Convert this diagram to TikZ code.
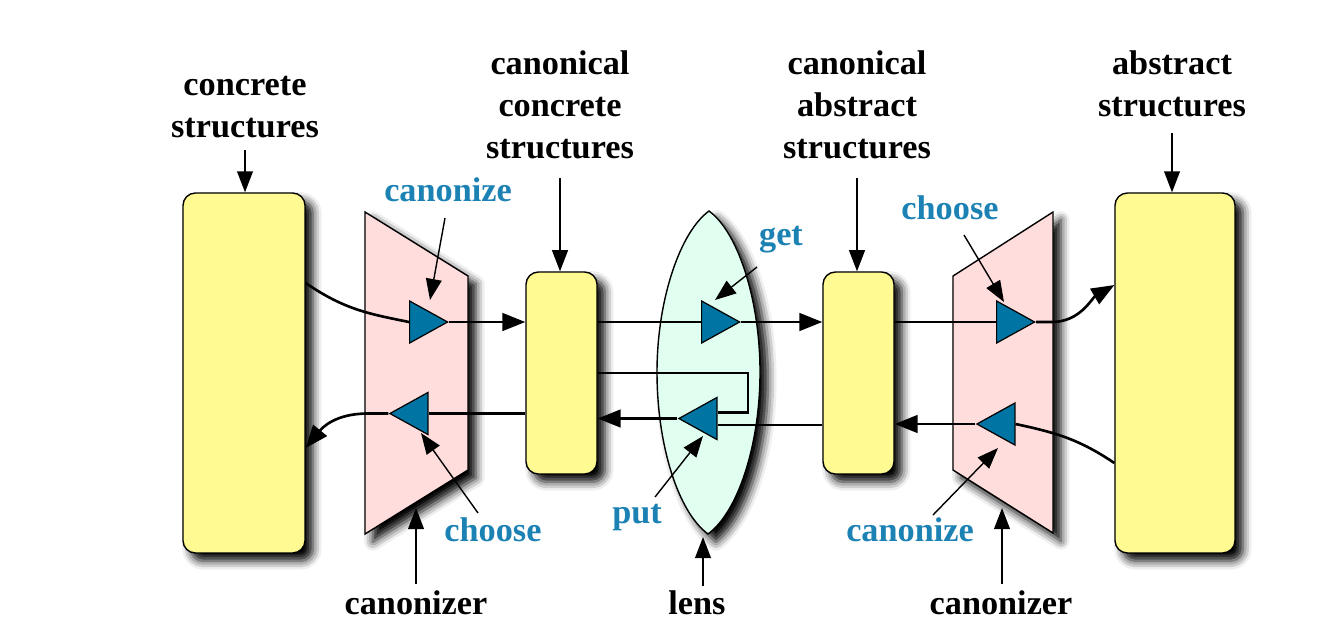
\documentclass[tikz,border=0pt]{standalone}
\usepackage{fontspec}
\setmainfont{Liberation Serif}
\usetikzlibrary{shapes.geometric,arrows.meta,shadows.blur,calc}
\definecolor{boxyellow}{RGB}{255,250,145}
\definecolor{trapink}{RGB}{255,221,221}
\definecolor{lensmint}{RGB}{225,255,240}
\definecolor{triteal}{RGB}{0,116,162}
\definecolor{lblblue}{RGB}{28,130,180}
\tikzset{
  shd/.style={blur shadow={shadow xshift=4.5pt,shadow yshift=-4.5pt,shadow blur radius=5pt,shadow opacity=100}},
  ybox/.style={draw=black,line width=0.8pt,fill=boxyellow,rounded corners=7pt,inner sep=0pt,shd},
  trap/.style={draw=black,line width=0.8pt,fill=trapink,shd},
  lensshape/.style={draw=black,line width=0.8pt,fill=lensmint,shd},
  tri/.style={isosceles triangle,isosceles triangle stretches,draw=black,line width=0.7pt,fill=triteal,minimum width=0.84cm,minimum height=0.76cm,inner sep=0pt},
  trir/.style={tri},
  tril/.style={tri,shape border rotate=180},
  conn/.style={draw=black,line width=1.5pt,-{Triangle[length=13pt,width=10pt,color=black,fill=black]}},
  plain/.style={draw=black,line width=1.5pt},
  thinline/.style={draw=black,line width=0.6pt},
  ann/.style={draw=black,line width=0.8pt,-{Triangle[length=12pt,width=9pt,color=black,fill=black]}},
  hd/.style={draw=black,line width=0.9pt,-{Triangle[length=12pt,width=9pt,color=black,fill=black]}},
  blk/.style={font=\fontsize{19.5}{23.9}\selectfont\bfseries,align=center,inner sep=0pt},
  blu/.style={font=\fontsize{19.5}{23.9}\selectfont\bfseries,text=lblblue,inner sep=0pt},
}
\begin{document}
\begin{tikzpicture}[x=0.02cm,y=-0.02cm]
\useasboundingbox (0,0) rectangle (1337,643);
% background shapes
\path[trap] (365,212) -- (468,276) -- (468,470) -- (365,534) -- cycle;
\path[trap] (953,276) -- (1053,212) -- (1053,533) -- (953,470) -- cycle;
\path[lensshape] (709,211) .. controls (738,232) and (760,300) .. (760,372)
   .. controls (760,445) and (738,512) .. (708,534)
   .. controls (678,512) and (657,445) .. (657,372)
   .. controls (657,300) and (680,232) .. (709,211) -- cycle;
% boxes
\node[ybox,minimum width=2.44cm,minimum height=7.2cm] (box1) at (244,373) {};
\node[ybox,minimum width=1.42cm,minimum height=4.04cm] (box2) at (561.5,373) {};
\node[ybox,minimum width=1.42cm,minimum height=4.04cm] (box3) at (858.5,373) {};
\node[ybox,minimum width=2.4cm,minimum height=7.2cm] (box4) at (1175,373) {};
% triangles
\node[trir] (tcz) at (422,322) {};
\node[tril] (tch) at (415.5,413.5) {};
\node[trir] (tget) at (714,322) {};
\node[tril] (tput) at (704.5,418.5) {};
\node[trir] (tch2) at (1009,322) {};
\node[tril] (tcz2) at (1002.5,424) {};
% left canonizer connectors
\draw[plain] ([yshift=1.8cm]box1.east) .. controls (345,310) and (370,314) .. (tcz.west);
\draw[conn] (tcz.apex) -- (tcz.apex -| box2.west);
\draw[plain] (tch.east -| box2.west) -- (tch.east);
\coordinate (lb1) at (368,413.5);
\draw[conn] (tch.apex) -- (lb1) .. controls (335,413.5) and (322,428) .. ([yshift=-1.5cm]box1.east);
% lens connectors
\draw[plain] (tget.west -| box2.east) -- (tget.west);
\draw[conn] (tget.apex) -- (tget.apex -| box3.west);
\coordinate (loopc) at (748,373);
\coordinate (putin) at ([yshift=0.12cm]tput.east);
\coordinate (putin2) at ([yshift=-0.13cm]tput.east);
\draw[plain] (box2.east) -- (loopc) |- (putin);
\draw[thinline] (putin2 -| box3.west) -- (putin2);
\draw[conn] (tput.apex) -- (tput.apex -| box2.east);
% right canonizer connectors
\draw[plain] (tch2.west -| box3.east) -- (tch2.west);
\coordinate (rb1) at (1052,322);
\draw[conn] (tch2.apex) -- (rb1) .. controls (1080,322) and (1092,298) .. ([yshift=1.76cm]box4.west);
\draw[plain] ([yshift=-1.8cm]box4.west) .. controls (1080,440) and (1058,433) .. (tcz2.east);
\draw[conn] (tcz2.apex) -- (tcz2.apex -| box3.east);
% heading labels
\node[blk] (h1) at (245,107) {concrete\\structures};
\node[blk] (h2) at (560,105) {canonical\\concrete\\structures};
\node[blk] (h3) at (857,105) {canonical\\abstract\\structures};
\node[blk] (h4) at (1172,84) {abstract\\structures};
\coordinate (h1a) at (245,150);
\coordinate (h2a) at (560,178);
\coordinate (h3a) at (857,178);
\coordinate (h4a) at (1172,133);
\draw[hd] (h1a) -- (h1a |- box1.north);
\draw[hd] (h2a) -- (h2a |- box2.north);
\draw[hd] (h3a) -- (h3a |- box3.north);
\draw[hd] (h4a) -- (h4a |- box4.north);
% bottom labels
\node[blk] (b1) at (416,603) {canonizer};
\node[blk] (b2) at (697,603) {lens};
\node[blk] (b3) at (1001,603) {canonizer};
\coordinate (b1a) at (416,584); \coordinate (b1t) at (416,508);
\coordinate (b2a) at (703,586); \coordinate (b2t) at (703,537);
\coordinate (b3a) at (1002,584); \coordinate (b3t) at (1002,508);
\draw[hd] (b1a) -- (b1t);
\draw[hd] (b2a) -- (b2t);
\draw[hd] (b3a) -- (b3t);
% blue labels
\node[blu] (l1) at (448,190) {canonize};
\node[blu] (l2) at (493,530) {choose};
\node[blu] (l3) at (781,240) {get};
\node[blu] (l4) at (637,517) {put};
\node[blu] (l5) at (950,208) {choose};
\node[blu] (l6) at (910,530) {canonize};
\coordinate (l1a) at (445,218); \coordinate (l1t) at (430,300);
\coordinate (l2a) at (478,513); \coordinate (l2t) at (421,433);
\coordinate (l3a) at (757,267); \coordinate (l3t) at (715,300);
\coordinate (l4a) at (655,497); \coordinate (l4t) at (703,436);
\coordinate (l5a) at (964,235); \coordinate (l5t) at (1004,302);
\coordinate (l6a) at (933,515); \coordinate (l6t) at (998,448);
\draw[ann] (l1a) -- (l1t);
\draw[ann] (l2a) -- (l2t);
\draw[ann] (l3a) -- (l3t);
\draw[ann] (l4a) -- (l4t);
\draw[ann] (l5a) -- (l5t);
\draw[ann] (l6a) -- (l6t);
\end{tikzpicture}
\end{document}
